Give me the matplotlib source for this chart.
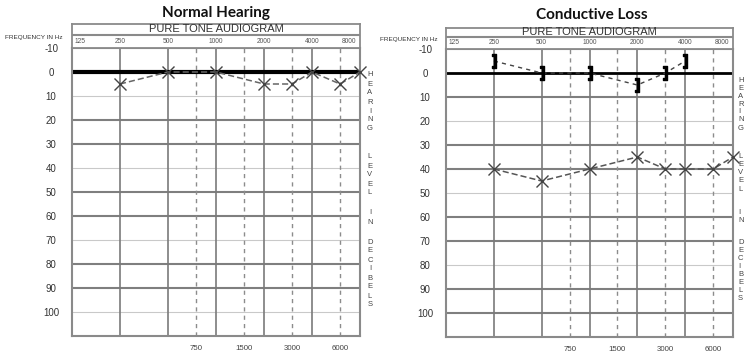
import matplotlib
matplotlib.use("Agg")
import matplotlib.pyplot as plt

W, H = 745, 352

# ---------------- data ----------------
freq_top = [125, 250, 500, 1000, 2000, 4000, 8000]
freq_top_labels = ["125", "250", "500", "1000", "2000", "4000", "8000"]
freq_bottom = [750, 1500, 3000, 6000]
freq_bottom_labels = ["750", "1500", "3000", "6000"]
octave_lines = [250, 500, 1000, 2000, 4000]
db_ticks = [-10, 0, 10, 20, 30, 40, 50, 60, 70, 80, 90, 100]

left_title = "Normal Hearing"
left_air_freq = [250, 500, 1000, 2000, 3000, 4000, 6000, 8000]
left_air_db = [5, 0, 0, 5, 5, 0, 5, 0]
left_thick_levels = [20, 30, 50, 60, 80, 90]
left_thin_levels = [10, 40, 70, 100]

right_title = "Conductive Loss"
right_bone_freq = [250, 500, 1000, 2000, 3000, 4000]
right_bone_db = [-5, 0, 0, 5, 0, -5]
right_air_freq = [250, 500, 1000, 2000, 3000, 4000, 6000, 8000]
right_air_db = [40, 45, 40, 35, 40, 40, 40, 35]
right_thick_levels = [10, 30, 40, 60, 70, 90, 100]
right_thin_levels = [20, 50, 80]

side_words = ["HEARING", "LEVEL", "IN", "DECIBELS"]

FONT = "Liberation Sans"

fig = plt.figure(figsize=(W / 100, H / 100), dpi=100)
fig.patch.set_facecolor("white")


def rect(x0, y0, x1, y1):
    return [x0 / W, 1 - y1 / H, (x1 - x0) / W, (y1 - y0) / H]


def panel(px, hdr, title, title_xy, thick, thin, zero_lw, side_x, side_starts, side_s,
          side_ha, freqlab_xy):
    x0, y0, x1, y1 = px
    ax = fig.add_axes(rect(x0, y0, x1, y1))
    ax.set_xscale("log", base=2)
    ax.set_xlim(125, 8000)
    ax.set_ylim(110, -10)
    ax.minorticks_off()
    for s in ax.spines.values():
        s.set_color("#8a8a8a")
        s.set_linewidth(1.5)
    ax.set_xticks([])
    ax.set_yticks(db_ticks)
    ax.set_yticklabels([str(v) for v in db_ticks], fontsize=7, color="#333333",
                       family=FONT, ha="center")
    ax.tick_params(axis="y", length=0, pad=15)

    for lv in thin:
        ax.axhline(lv, color="#c9c9c9", lw=0.8, zorder=1)
    for lv in thick:
        ax.axhline(lv, color="#7f7f7f", lw=1.5, zorder=1)
    for f in octave_lines:
        ax.axvline(f, color="#7a7a7a", lw=1.2, zorder=1)
    for f in freq_bottom:
        ax.axvline(f, color="#8c8c8c", lw=1.0, ls=(0, (3, 3)), zorder=1)
    ax.axhline(0, color="black", lw=zero_lw, zorder=2)

    for f, lab in zip(freq_bottom, freq_bottom_labels):
        ax.annotate(lab, xy=(f, 110), xycoords="data", xytext=(0, -9),
                    textcoords="offset points", ha="center", va="center",
                    fontsize=5.7, color="#444444", family=FONT, annotation_clip=False)

    # header box
    hx0, hy0, hx1, hy1, hdiv = hdr
    hax = fig.add_axes(rect(hx0, hy0, hx1, hy1))
    hax.set_xscale("log", base=2)
    hax.set_xlim(125, 8000)
    hax.set_ylim(hy1, hy0)
    hax.set_xticks([])
    hax.set_yticks([])
    hax.minorticks_off()
    for s in hax.spines.values():
        s.set_color("#8a8a8a")
        s.set_linewidth(1.3)
    hax.axhline(hdiv, color="#8a8a8a", lw=1.5)
    hax.text(0.5, 1 - ((hy0 + hdiv) / 2 - hy0) / (hy1 - hy0) + 0.02, "PURE TONE AUDIOGRAM",
             transform=hax.transAxes, ha="center", va="center", fontsize=8,
             color="#333333", family=FONT)
    ymid = (hdiv + hy1) / 2
    for f, lab in zip(freq_top, freq_top_labels):
        ha = "center"
        dx = 0
        if f == freq_top[0]:
            ha, dx = "left", 3
        elif f == freq_top[-1]:
            ha, dx = "right", -4
        hax.annotate(lab, xy=(f, ymid), xycoords="data", xytext=(dx * 0.72, 0),
                     textcoords="offset points", ha=ha, va="center", fontsize=4.8,
                     color="#555555", family=FONT)

    fig.text(title_xy[0] / W, 1 - title_xy[1] / H, title, ha="center", va="center",
             fontsize=11, fontweight="bold", family="Lato", color="#111111")
    fig.text(freqlab_xy[0] / W, 1 - freqlab_xy[1] / H, "FREQUENCY IN Hz", ha="right",
             va="center", fontsize=4.6, color="#333333", family=FONT)

    for word, ys in zip(side_words, side_starts):
        for i, ch in enumerate(word):
            fig.text(side_x / W, 1 - (ys + i * side_s) / H, ch, ha=side_ha, va="center",
                     fontsize=5.5, color="#444444", family=FONT)
    return ax


axL = panel((72, 48, 360, 336), (72, 24, 360, 48, 34.5), left_title, (216, 13),
            left_thick_levels, left_thin_levels, 3.0, 370, [75, 157, 213, 242], 9.0,
            "center", (63, 37))
axL.plot(left_air_freq, left_air_db, color="#666666", lw=1.1, ls=(0, (4, 2)),
         marker="x", ms=9, mew=1.0, mec="#444444", zorder=4, clip_on=False)

axR = panel((446, 49, 733, 337), (446, 28, 733, 49, 37), right_title, (592, 15),
            right_thick_levels, right_thin_levels, 2.0, 738, [80, 157, 213, 242], 8.0,
            "left", (438, 39))
axR.plot(right_bone_freq, right_bone_db, color="#444444", lw=1.0, ls=(0, (3, 3)),
         marker=r"$\mathbf{]}$", ms=10, mec="black", mfc="black", zorder=4)
axR.plot(right_air_freq, right_air_db, color="#555555", lw=1.1, ls=(0, (4, 2)),
         marker="x", ms=9, mew=1.0, mec="#444444", zorder=4, clip_on=False)

fig.savefig("out.png", dpi=100, facecolor="white")
